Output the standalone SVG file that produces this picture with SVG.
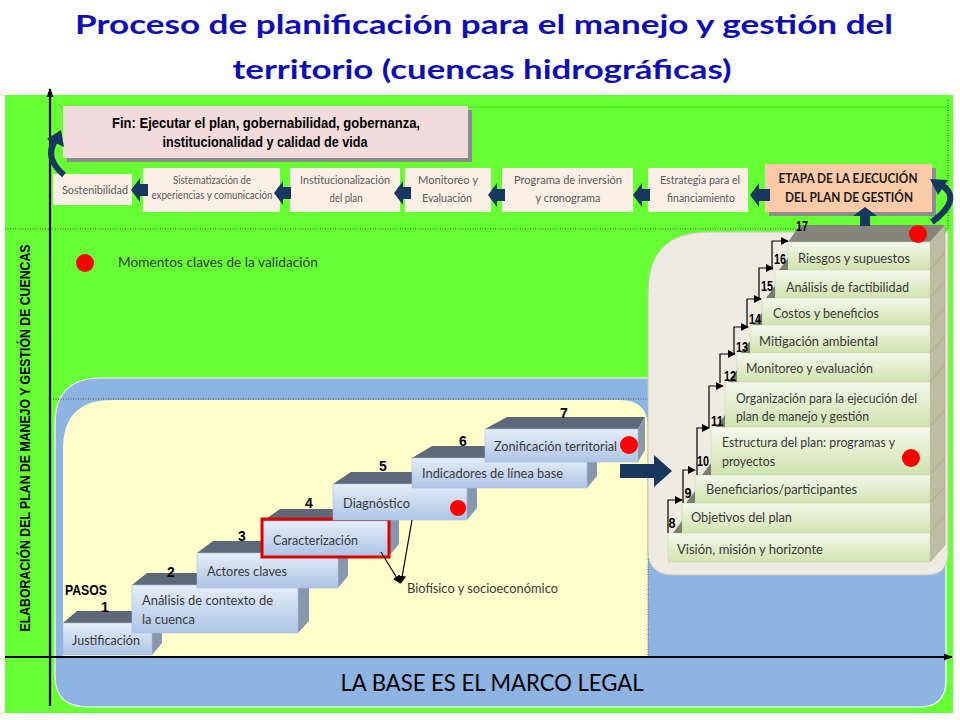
<svg xmlns="http://www.w3.org/2000/svg" width="960" height="720" viewBox="0 0 960 720">
<defs>
<style>
.t{font-family:Lato,"Liberation Sans",sans-serif;fill:#3a3a3a;font-size:14px}
.ts{font-family:Lato,"Liberation Sans",sans-serif;fill:#595959;font-size:12px}
.b{font-family:"Liberation Sans",Arial,sans-serif;font-weight:bold;fill:#000;font-size:14px}
.bf{fill:url(#gb);stroke:#a9bedc;stroke-width:0.6}
.bt{fill:#5d6878}
.bs{fill:#8798ae}
.gf{fill:url(#gg);stroke:#c9d8b0;stroke-width:0.6}
.gs{fill:#bdbda4;stroke:#a3a38a;stroke-width:0.6}
.gw{fill:#7d7d6c}
.tb{fill:#FCEFE6}
.rd{fill:#FF0000}
.na{fill:#17375E}
.dot{fill:none;stroke:#333;stroke-width:0.8;stroke-dasharray:1 1.5}
.el{fill:none;stroke:#000;stroke-width:1.2}
</style>
<linearGradient id="gb" x1="0" y1="0" x2="0" y2="1"><stop offset="0" stop-color="#E6EEF8"/><stop offset="1" stop-color="#ADC4E6"/></linearGradient>
<linearGradient id="gg" x1="0" y1="0" x2="0" y2="1"><stop offset="0" stop-color="#F4F8EC"/><stop offset="1" stop-color="#D0E3AF"/></linearGradient>
<marker id="ah" viewBox="0 0 10 10" refX="9" refY="5" markerWidth="8" markerHeight="8" orient="auto" markerUnits="userSpaceOnUse"><path d="M0,0 L10,5 L0,10 Z" fill="#000"/></marker>
<marker id="ax" viewBox="0 0 10 10" refX="9" refY="5" markerWidth="9" markerHeight="9" orient="auto" markerUnits="userSpaceOnUse"><path d="M0,1 L10,5 L0,9 Z" fill="#000"/></marker>
<path id="la" d="M0,0 L9,-12 L9,-6 L17,-6 L17,6 L9,6 L9,12 Z" fill="#17375E"/>
</defs>

<rect width="960" height="720" fill="#fff"/>

<g id="title" font-family="Lato,'Liberation Sans',sans-serif" font-weight="bold" font-size="27" fill="#0E0EB8" text-anchor="middle">
<text x="484" y="34" textLength="818" lengthAdjust="spacingAndGlyphs">Proceso de planificación para el manejo y gestión del</text>
<text x="482" y="79" textLength="499" lengthAdjust="spacingAndGlyphs">territorio (cuencas hidrográficas)</text>
</g>

<!-- background areas -->
<rect x="5" y="95" width="948" height="618" fill="#66FF33"/>
<line x1="60" y1="107" x2="948" y2="107" stroke="#4cc826" stroke-width="0.8"/>
<path class="dot" d="M5,229 L948,229 M948,100 L948,229"/>
<path d="M55,424 Q55,378 101,378 L946,378 L946,680 Q946,707 919,707 L88,707 Q55,707 55,676 Z" fill="#8DB4E2" stroke="#ffffff" stroke-width="1.2"/>
<path d="M63,449 Q63,400 112,400 L620,400 Q648,400 648,428 L648,657 L63,657 Z" fill="#FFFFCC"/>
<path class="dot" d="M53,399 L648,399 L648,657"/>
<path d="M648,292 Q648,232 708,232 L948,232 L948,553 Q948,575 926,575 L673,575 Q648,575 648,550 Z" fill="#EEECE1" stroke="#c8c6b8" stroke-width="1"/>

<!-- axes -->
<g id="axes">
<line x1="50" y1="706" x2="50" y2="89" stroke="#000" stroke-width="2.2" marker-end="url(#ax)"/>
<line x1="5" y1="657" x2="952" y2="657" stroke="#000" stroke-width="2.2" marker-end="url(#ax)"/>
<text class="b" font-size="13" transform="translate(30,438) rotate(-90)" text-anchor="middle" textLength="387" lengthAdjust="spacingAndGlyphs">ELABORACIÓN DEL PLAN DE MANEJO Y GESTIÓN DE CUENCAS</text>
<text x="492" y="691" font-family="Lato,'Liberation Sans',sans-serif" font-size="23" fill="#000" text-anchor="middle" textLength="303" lengthAdjust="spacingAndGlyphs">LA BASE ES EL MARCO LEGAL</text>
</g>

<!-- legend -->
<g id="legend">
<circle class="rd" cx="85" cy="263" r="9"/>
<text class="t" x="118" y="267" font-size="13" textLength="200" lengthAdjust="spacingAndGlyphs" fill="#262626">Momentos claves de la validación</text>
</g>

<!-- top row -->
<g id="fin">
<rect x="67" y="110" width="405" height="52" fill="#8c8c8c"/>
<rect x="63" y="106" width="405" height="52" fill="#F2DCDB"/>
<text class="b" x="266" y="128" text-anchor="middle" textLength="308" lengthAdjust="spacingAndGlyphs">Fin: Ejecutar el plan, gobernabilidad, gobernanza,</text>
<text class="b" x="265" y="147" text-anchor="middle" textLength="205" lengthAdjust="spacingAndGlyphs">institucionalidad y calidad de vida</text>
</g>
<g id="sostenibilidad">
<rect class="tb" x="53" y="174" width="79" height="31"/>
<text class="ts" x="95" y="194" text-anchor="middle" font-size="12" fill="#404040" textLength="66" lengthAdjust="spacingAndGlyphs">Sostenibilidad</text>
</g>
<g id="sistematizacion">
<rect class="tb" x="143" y="168" width="137" height="44"/>
<text class="ts" x="212" y="184" text-anchor="middle" font-size="10" textLength="78" lengthAdjust="spacingAndGlyphs">Sistematización de</text>
<text class="ts" x="212" y="199" text-anchor="middle" font-size="10" textLength="121" lengthAdjust="spacingAndGlyphs">experiencias y comunicación</text>
</g>
<g id="institucionalizacion">
<rect class="tb" x="290" y="168" width="110" height="44"/>
<text class="ts" x="345" y="184" text-anchor="middle" textLength="90" lengthAdjust="spacingAndGlyphs">Institucionalización</text>
<text class="ts" x="346" y="202" text-anchor="middle" textLength="33" lengthAdjust="spacingAndGlyphs">del plan</text>
</g>
<g id="monitoreo">
<rect class="tb" x="405" y="168" width="86" height="44"/>
<text class="ts" x="448" y="184" text-anchor="middle" textLength="60" lengthAdjust="spacingAndGlyphs">Monitoreo y</text>
<text class="ts" x="447" y="202" text-anchor="middle" textLength="50" lengthAdjust="spacingAndGlyphs">Evaluación</text>
</g>
<g id="programa">
<rect class="tb" x="502" y="168" width="131" height="44"/>
<text class="ts" x="568" y="184" text-anchor="middle" textLength="108" lengthAdjust="spacingAndGlyphs">Programa de inversión</text>
<text class="ts" x="568" y="202" text-anchor="middle" textLength="65" lengthAdjust="spacingAndGlyphs">y cronograma</text>
</g>
<g id="estrategia">
<rect class="tb" x="648" y="168" width="100" height="44"/>
<text class="ts" x="700" y="184" text-anchor="middle" textLength="80" lengthAdjust="spacingAndGlyphs">Estrategia para el</text>
<text class="ts" x="701" y="202" text-anchor="middle" textLength="68" lengthAdjust="spacingAndGlyphs">financiamiento</text>
</g>
<g id="etapa">
<rect x="769" y="168" width="167" height="48" fill="#8c8c8c"/>
<rect x="765" y="164" width="167" height="48" fill="#FACBA6"/>
<text x="848" y="183" text-anchor="middle" font-family="Lato,'Liberation Sans',sans-serif" font-weight="bold" font-size="14" fill="#1a1a1a" textLength="139" lengthAdjust="spacingAndGlyphs">ETAPA DE LA EJECUCIÓN</text>
<text x="849" y="202" text-anchor="middle" font-family="Lato,'Liberation Sans',sans-serif" font-weight="bold" font-size="14" fill="#1a1a1a" textLength="128" lengthAdjust="spacingAndGlyphs">DEL PLAN DE GESTIÓN</text>
</g>

<!-- blue steps -->
<g id="paso1">
<polygon class="bt" points="63,623 77,611 162,611 152,623"/>
<polygon class="bs" points="152,623 162,611 162,643 152,655"/>
<rect class="bf" x="63" y="623" width="89" height="32"/>
<text class="t" x="72" y="645" textLength="68" lengthAdjust="spacingAndGlyphs">Justificación</text>
</g>
<g id="paso2">
<polygon class="bt" points="132,585 147,573 309,573 298,585"/>
<polygon class="bs" points="298,585 309,573 309,621 298,633"/>
<rect class="bf" x="132" y="585" width="166" height="48"/>
<text class="t" x="142" y="605" textLength="131" lengthAdjust="spacingAndGlyphs">Análisis de contexto de</text>
<text class="t" x="142" y="624" textLength="53" lengthAdjust="spacingAndGlyphs">la cuenca</text>
</g>
<g id="paso3">
<polygon class="bt" points="197,553 213,541 348,541 338,553"/>
<polygon class="bs" points="338,553 348,541 348,576 338,588"/>
<rect class="bf" x="197" y="553" width="141" height="35"/>
<text class="t" x="207" y="576" textLength="80" lengthAdjust="spacingAndGlyphs">Actores claves</text>
</g>
<g id="paso4">
<polygon class="bt" points="263,521 280,509 399,509 389,521"/>
<polygon class="bs" points="389,521 399,509 399,544 389,556"/>
<rect class="bf" x="263" y="521" width="126" height="35"/>
<text class="t" x="273" y="545" textLength="85" lengthAdjust="spacingAndGlyphs">Caracterización</text>
<rect x="262" y="519" width="127" height="38" fill="none" stroke="#E00000" stroke-width="3"/>
</g>
<g id="paso5">
<polygon class="bt" points="333,484 351,472 477,472 467,484"/>
<polygon class="bs" points="467,484 477,472 477,508 467,520"/>
<rect class="bf" x="333" y="484" width="134" height="36"/>
<text class="t" x="343" y="508" textLength="67" lengthAdjust="spacingAndGlyphs">Diagnóstico</text>
<circle class="rd" cx="458" cy="508" r="8"/>
</g>
<g id="paso6">
<polygon class="bt" points="412,458 432,446 597,446 587,458"/>
<polygon class="bs" points="587,458 597,446 597,476 587,488"/>
<rect class="bf" x="412" y="458" width="175" height="30"/>
<text class="t" x="422" y="478" textLength="141" lengthAdjust="spacingAndGlyphs">Indicadores de línea base</text>
</g>
<g id="paso7">
<polygon class="bt" points="485,429 507,417 645,417 638,429"/>
<polygon class="bs" points="638,429 645,417 645,450 638,462"/>
<rect class="bf" x="485" y="429" width="153" height="33"/>
<text class="t" x="494" y="451" textLength="123" lengthAdjust="spacingAndGlyphs">Zonificación territorial</text>
<circle class="rd" cx="629" cy="445" r="9"/>
</g>
<g id="numeros-pasos" class="b">
<text x="65" y="595" textLength="42" lengthAdjust="spacingAndGlyphs">PASOS</text>
<text x="105" y="612" text-anchor="middle">1</text>
<text x="171" y="577" text-anchor="middle">2</text>
<text x="242" y="541" text-anchor="middle">3</text>
<text x="309" y="508" text-anchor="middle">4</text>
<text x="383" y="471" text-anchor="middle">5</text>
<text x="463" y="446" text-anchor="middle">6</text>
<text x="564" y="418" text-anchor="middle">7</text>
</g>
<g id="biofisico">
<text class="t" x="407" y="593" textLength="151" lengthAdjust="spacingAndGlyphs">Biofísico y socioeconómico</text>
</g>

<!-- green stack -->
<g id="pila-lados">
<polygon points="788,242 800,225 945,225 930,242" fill="#85857a"/>
<polygon class="gs" points="930,242 945,225 945,253 930,270"/>
<polygon class="gs" points="930,270 945,253 945,281 930,298"/>
<polygon class="gs" points="930,298 945,281 945,308 930,325"/>
<polygon class="gs" points="930,325 945,308 945,336 930,353"/>
<polygon class="gs" points="930,353 945,336 945,365 930,382"/>
<polygon class="gs" points="930,382 945,365 945,410 930,427"/>
<polygon class="gs" points="930,427 945,410 945,458 930,475"/>
<polygon class="gs" points="930,475 945,458 945,486 930,503"/>
<polygon class="gs" points="930,503 945,486 945,516 930,533"/>
<polygon class="gs" points="930,533 945,516 945,545 930,562"/>
</g>
<g id="paso16"><rect class="gf" x="788" y="242" width="142" height="28"/><text class="t" x="798" y="263" textLength="112" lengthAdjust="spacingAndGlyphs">Riesgos y supuestos</text></g>
<g id="paso15"><rect class="gf" x="775" y="270" width="155" height="28"/><text class="t" x="786" y="292" textLength="123" lengthAdjust="spacingAndGlyphs">Análisis de factibilidad</text></g>
<g id="paso14"><rect class="gf" x="762" y="298" width="168" height="27"/><text class="t" x="773" y="318" textLength="106" lengthAdjust="spacingAndGlyphs">Costos y beneficios</text></g>
<g id="paso13"><rect class="gf" x="750" y="325" width="180" height="28"/><text class="t" x="759" y="346" textLength="119" lengthAdjust="spacingAndGlyphs">Mitigación ambiental</text></g>
<g id="paso12"><rect class="gf" x="737" y="353" width="193" height="29"/><text class="t" x="746" y="373" font-size="13" textLength="127" lengthAdjust="spacingAndGlyphs">Monitoreo y evaluación</text></g>
<g id="paso11"><rect class="gf" x="725" y="382" width="205" height="45"/><text class="t" x="736" y="403" font-size="13" textLength="181" lengthAdjust="spacingAndGlyphs">Organización para la ejecución del</text><text class="t" x="736" y="421" font-size="13" textLength="133" lengthAdjust="spacingAndGlyphs">plan de manejo y gestión</text></g>
<g id="paso10"><rect class="gf" x="711" y="427" width="219" height="48"/><text class="t" x="722" y="447" font-size="13" textLength="173" lengthAdjust="spacingAndGlyphs">Estructura del plan: programas y</text><text class="t" x="722" y="466" font-size="13" textLength="53" lengthAdjust="spacingAndGlyphs">proyectos</text><circle class="rd" cx="911" cy="458" r="9"/></g>
<g id="paso9"><rect class="gf" x="695" y="475" width="235" height="28"/><text class="t" x="706" y="494" textLength="151" lengthAdjust="spacingAndGlyphs">Beneficiarios/participantes</text></g>
<g id="paso8"><rect class="gf" x="682" y="503" width="248" height="30"/><text class="t" x="691" y="522" textLength="101" lengthAdjust="spacingAndGlyphs">Objetivos del plan</text></g>
<g id="vision"><rect class="gf" x="668" y="533" width="262" height="29"/><text class="t" x="677" y="554" textLength="146" lengthAdjust="spacingAndGlyphs">Visión, misión y horizonte</text></g>
<g id="cunas">
<polygon class="gw" points="673,533 682,521 682,533"/>
<polygon class="gw" points="686,503 695,491 695,503"/>
<polygon class="gw" points="702,475 711,463 711,475"/>
<polygon class="gw" points="716,427 725,415 725,427"/>
<polygon class="gw" points="728,382 737,370 737,382"/>
<polygon class="gw" points="741,353 750,341 750,353"/>
<polygon class="gw" points="753,325 762,313 762,325"/>
<polygon class="gw" points="766,298 775,286 775,298"/>
<polygon class="gw" points="779,270 788,258 788,270"/>
</g>
<g id="paso17">
<circle class="rd" cx="918" cy="234" r="9"/>
</g>
<g id="numeros-pila" class="b">
<text x="672" y="528" text-anchor="middle" textLength="7" lengthAdjust="spacingAndGlyphs">8</text>
<text x="688" y="498" text-anchor="middle" textLength="7" lengthAdjust="spacingAndGlyphs">9</text>
<text x="703" y="466" text-anchor="middle" textLength="12" lengthAdjust="spacingAndGlyphs">10</text>
<text x="717" y="426" text-anchor="middle" textLength="12" lengthAdjust="spacingAndGlyphs">11</text>
<text x="730" y="381" text-anchor="middle" textLength="12" lengthAdjust="spacingAndGlyphs">12</text>
<text x="742" y="352" text-anchor="middle" textLength="12" lengthAdjust="spacingAndGlyphs">13</text>
<text x="755" y="324" text-anchor="middle" textLength="12" lengthAdjust="spacingAndGlyphs">14</text>
<text x="767" y="291" text-anchor="middle" textLength="12" lengthAdjust="spacingAndGlyphs">15</text>
<text x="780" y="264" text-anchor="middle" textLength="12" lengthAdjust="spacingAndGlyphs">16</text>
<text x="802" y="231" text-anchor="middle" textLength="12" lengthAdjust="spacingAndGlyphs">17</text>
</g>

<!-- connectors -->
<g id="connectors">
<use href="#la" x="131" y="190"/>
<use href="#la" x="274" y="193"/>
<use href="#la" x="394" y="193"/>
<use href="#la" x="488" y="195"/>
<use href="#la" x="633" y="195"/>
<path d="M750,195 L759,183 L759,189 L770,189 L770,201 L759,201 L759,207 Z" fill="#17375E"/>
<path class="na" d="M865,207 L877,216 L870,216 L870,226 L860,226 L860,216 L853,216 Z"/>
<path d="M64,175 Q44,158 55,141" fill="none" stroke="#17375E" stroke-width="6"/>
<polygon class="na" points="61,130 64,147 47,139"/>
<path d="M932,222 Q962,200 943,186" fill="none" stroke="#17375E" stroke-width="6"/>
<polygon class="na" points="930,179 948,180 938,195"/>
<polygon class="na" points="620,464 654,464 654,455 672,471 654,487 654,478 620,478"/>
<line class="el" x1="381" y1="552" x2="400" y2="583" marker-end="url(#ah)"/>
<line class="el" x1="412" y1="520" x2="401" y2="583" marker-end="url(#ah)"/>
<polyline class="el" points="668,533 668,500 682,500" marker-end="url(#ah)"/>
<polyline class="el" points="683,503 683,470 695,470" marker-end="url(#ah)"/>
<polyline class="el" points="697,475 697,428 709,428" marker-end="url(#ah)"/>
<polyline class="el" points="709,428 709,386 723,386" marker-end="url(#ah)"/>
<polyline class="el" points="720,383 720,354 735,354" marker-end="url(#ah)"/>
<polyline class="el" points="734,354 734,327 748,327" marker-end="url(#ah)"/>
<polyline class="el" points="747,327 747,299 761,299" marker-end="url(#ah)"/>
<polyline class="el" points="759,299 759,268 773,268" marker-end="url(#ah)"/>
<polyline class="el" points="772,270 772,241 788,241" marker-end="url(#ah)"/>
</g>
</svg>
